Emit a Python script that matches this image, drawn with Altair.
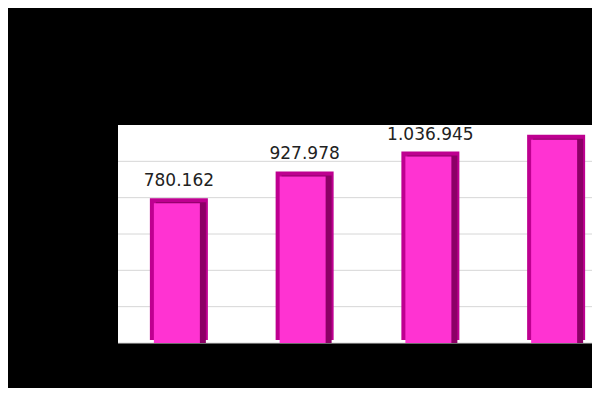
import altair as alt
import pandas as pd

categories = ["2008", "2009", "2010", "2011"]
values = [780162, 927978, 1036945, 1130000]
labels = ["780.162", "927.978", "1.036.945", "1.130.000"]
grid_values = [0, 200000, 400000, 600000, 800000, 1000000]

df = pd.DataFrame({"cat": categories, "value": values, "label": labels})
gdf = pd.DataFrame({"g": grid_values})

yscale = alt.Scale(domain=[0, 1200000], nice=False)
x = alt.X("cat:N", sort=categories, axis=None,
          scale=alt.Scale(range=[-2, 501], paddingInner=0, paddingOuter=0))
y = alt.Y("value:Q", scale=yscale, axis=None)

grid = alt.Chart(gdf).mark_rule(color="#D6D6D6", strokeWidth=1).encode(
    y=alt.Y("g:Q", scale=yscale, axis=None))

base = alt.Chart(df)

outer = base.mark_bar(size=58, color="#BE0090", yOffset=-3, clip=True).encode(x=x, y=y)
shade = base.mark_bar(size=50, color="#8C0066", xOffset=2, yOffset=1, y2Offset=-3, clip=True).encode(
    x=alt.X("cat:N", sort=categories), y="value:Q")
inner = base.mark_bar(size=46, color="#FF33D2", xOffset=-2, yOffset=2, y2Offset=-4, clip=True).encode(
    x=alt.X("cat:N", sort=categories), y="value:Q")
text = base.mark_text(font="DejaVu Sans", fontSize=17, color="#222222",
                      baseline="alphabetic", dy=-15, clip=True).encode(
    x=alt.X("cat:N", sort=categories), y="value:Q", text="label:N")

chart = alt.layer(grid, outer, shade, inner, text).properties(
    width=474, height=218,
    padding={"left": 110, "top": 117, "right": 0, "bottom": 45},
    autosize=alt.AutoSizeParams(type="none"),
    background="#000000",
).configure_view(fill="#FFFFFF", stroke=None)

chart.save("out.html", embed_options={"renderer": "svg", "actions": False})
